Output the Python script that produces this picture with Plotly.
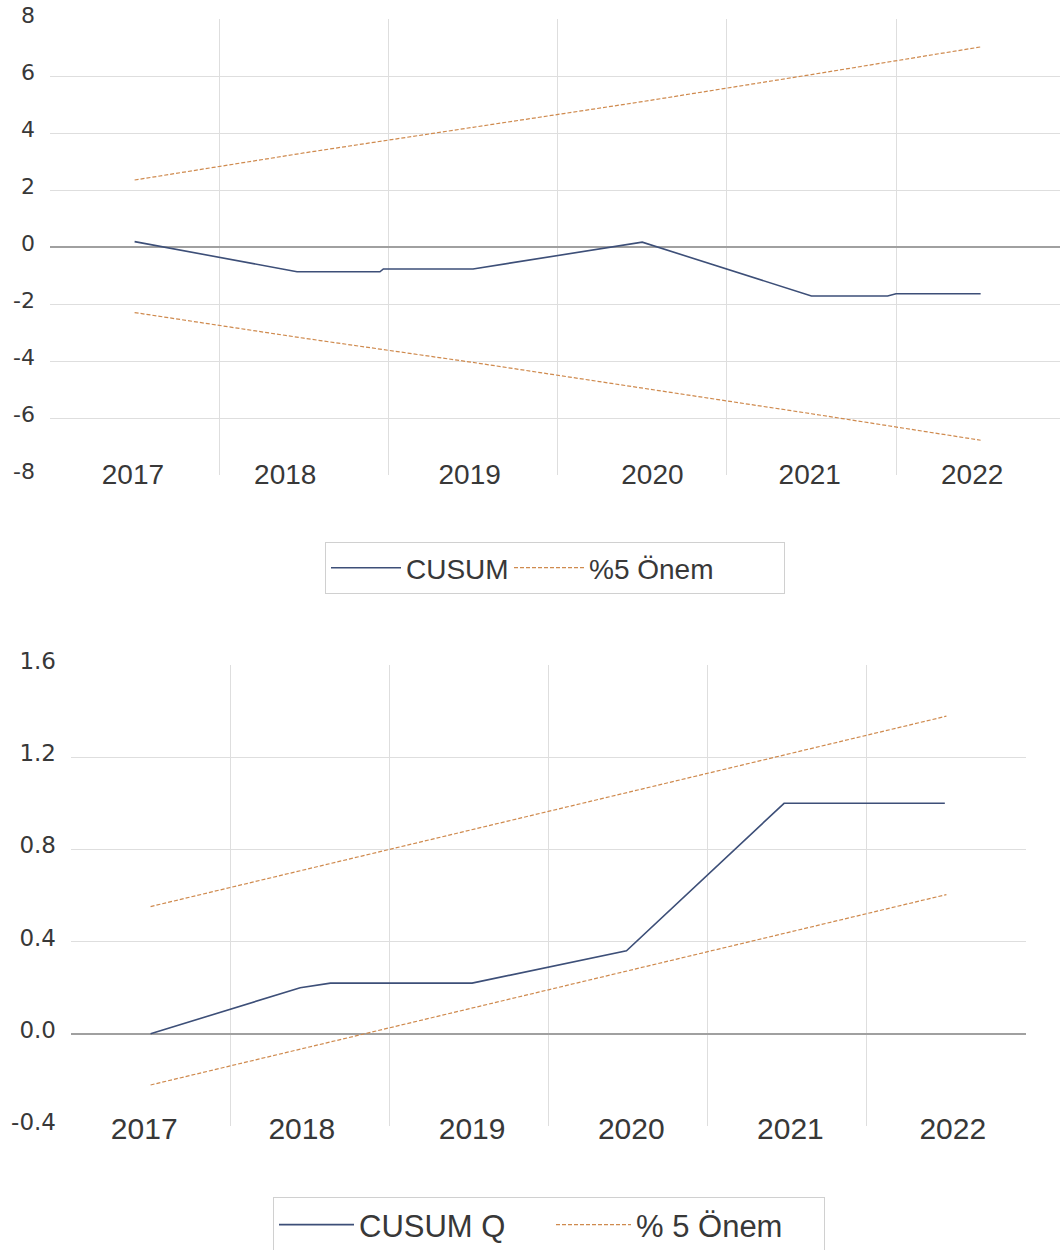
import plotly.graph_objects as go

# ---------------- data ----------------
years = [2017, 2018, 2019, 2020, 2021, 2022]
year_labels = ["2017", "2018", "2019", "2020", "2021", "2022"]

# Top chart: CUSUM
cusum_x = [2017.0, 2017.96, 2018.45, 2018.47, 2019.0, 2020.0, 2021.0, 2021.45, 2021.5, 2022.0]
cusum_y = [0.19, -0.87, -0.87, -0.77, -0.77, 0.17, -1.72, -1.72, -1.64, -1.64]
cusum_upper = [2.35, 3.3, 4.2, 5.1, 6.05, 7.02]
cusum_lower = [-2.3, -3.2, -4.05, -4.95, -5.85, -6.78]

# Bottom chart: CUSUM of squares
cusumq_x = [2017.0, 2017.94, 2018.13, 2019.02, 2019.99, 2020.98, 2021.99]
cusumq_y = [0.0, 0.20, 0.22, 0.22, 0.36, 1.0, 1.0]
cusumq_upper = [0.552, 0.717, 0.883, 1.048, 1.213, 1.378]
cusumq_lower = [-0.222, -0.057, 0.108, 0.274, 0.439, 0.604]

top_yticks = [-8, -6, -4, -2, 0, 2, 4, 6, 8]
top_ytick_text = ["-8", "-6", "-4", "-2", "0", "2", "4", "6", "8"]
bot_yticks = [-0.4, 0.0, 0.4, 0.8, 1.2, 1.6]
bot_ytick_text = ["-0.4", "0.0", "0.4", "0.8", "1.2", "1.6"]

# label positions as they appear on the axis (slightly off-centre in the original)
top_label_pos = [2016.99, 2017.89, 2018.98, 2020.06, 2020.99, 2021.95]
bot_label_pos = [2016.96, 2017.95, 2019.02, 2020.02, 2021.02, 2022.04]

# ---------------- style ----------------
W, H = 1060, 1250
BLUE = "#3d4f78"
ORANGE = "#cf8a4e"
GRID = "#dedede"
ZERO = "#a0a0a0"
TXT = "#383838"
XFONT = "Liberation Sans, Arial, sans-serif"
YFONT = "DejaVu Sans, Verdana, sans-serif"
DASH = "4px,2px"

fig = go.Figure()

fig.add_trace(go.Scatter(x=cusum_x, y=cusum_y, mode="lines", name="CUSUM",
                         line=dict(color=BLUE, width=1.6), xaxis="x", yaxis="y",
                         legend="legend", legendwidth=98))
fig.add_trace(go.Scatter(x=years, y=cusum_upper, mode="lines", name="%5 Önem",
                         line=dict(color=ORANGE, width=1.2, dash=DASH),
                         xaxis="x", yaxis="y", legend="legend", legendwidth=190))
fig.add_trace(go.Scatter(x=years, y=cusum_lower, mode="lines", name="%5 Önem",
                         line=dict(color=ORANGE, width=1.2, dash=DASH),
                         xaxis="x", yaxis="y", showlegend=False, legend="legend"))

fig.add_trace(go.Scatter(x=cusumq_x, y=cusumq_y, mode="lines", name="CUSUM Q",
                         line=dict(color=BLUE, width=1.6), xaxis="x2", yaxis="y2",
                         legend="legend2", legendwidth=187))
fig.add_trace(go.Scatter(x=years, y=cusumq_upper, mode="lines", name="% 5 Önem",
                         line=dict(color=ORANGE, width=1.2, dash=DASH),
                         xaxis="x2", yaxis="y2", legend="legend2", legendwidth=183))
fig.add_trace(go.Scatter(x=years, y=cusumq_lower, mode="lines", name="% 5 Önem",
                         line=dict(color=ORANGE, width=1.2, dash=DASH),
                         xaxis="x2", yaxis="y2", showlegend=False, legend="legend2"))


def xaxis(dom, rng, pos, labelpos, size):
    return dict(domain=dom, range=rng, anchor="free", position=pos,
                tickmode="array", tickvals=labelpos, ticktext=year_labels,
                showgrid=False, zeroline=False, showline=False, ticks="",
                tickfont=dict(family=XFONT, size=size, color=TXT),
                minor=dict(tick0=2016.5, dtick=1, showgrid=True, gridcolor=GRID,
                           gridwidth=1, ticks=""),
                fixedrange=True)


def yaxis(dom, rng, anchor, vals, text, size):
    return dict(domain=dom, range=rng, anchor=anchor,
                tickmode="array", tickvals=vals, ticktext=text,
                showgrid=True, gridcolor=GRID, gridwidth=1,
                zeroline=True, zerolinecolor=ZERO, zerolinewidth=1.5,
                ticks="", ticklabelstandoff=14, ticklabelshift=-4,
                tickfont=dict(family=YFONT, size=size, color=TXT),
                fixedrange=True)


fig.update_layout(
    width=W, height=H,
    margin=dict(l=0, r=0, t=0, b=0, autoexpand=False),
    paper_bgcolor="white", plot_bgcolor="white",
    xaxis=xaxis([50 / W, 1.0], [2016.5, 2022.469], 1 - 455 / H, top_label_pos, 28),
    yaxis=yaxis([1 - 475 / H, 1 - 19 / H], [-8, 8], "x", top_yticks, top_ytick_text, 22),
    xaxis2=xaxis([71 / W, 1026 / W], [2016.5, 2022.5], 1 - 1108 / H, bot_label_pos, 30),
    yaxis2=yaxis([1 - 1126 / H, 1 - 665 / H], [-0.4, 1.6], "x2", bot_yticks, bot_ytick_text, 23),
    legend=dict(orientation="h", x=325 / W, y=1 - 542 / H, xanchor="left", yanchor="top",
                bordercolor="#d0d0d0", borderwidth=1, bgcolor="white", itemwidth=70,
                font=dict(family=XFONT, size=28, color=TXT)),
    legend2=dict(orientation="h", x=273 / W, y=1 - 1197 / H, xanchor="left", yanchor="top",
                 bordercolor="#d0d0d0", borderwidth=1, bgcolor="white", itemwidth=75,
                 font=dict(family=XFONT, size=31, color=TXT)),
    showlegend=True,
)

fig.write_html("out.html")
